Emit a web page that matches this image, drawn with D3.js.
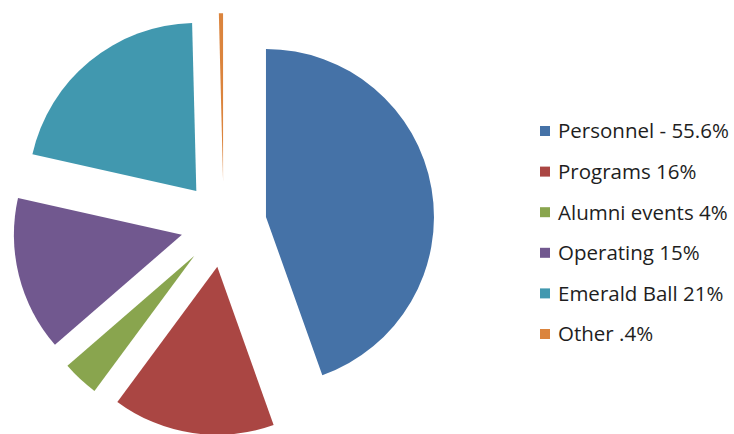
<!DOCTYPE html>
<html>
<head>
<meta charset="utf-8">
<script src="https://cdn.jsdelivr.net/npm/d3@7/dist/d3.min.js"></script>
<style>
  html, body { margin: 0; padding: 0; background: #ffffff; }
  svg { display: block; }
</style>
</head>
<body>
<svg id="chart" width="734" height="434"></svg>
<script>
// Data (slice shares; legend texts as printed)
const categories = ["Personnel", "Programs", "Alumni events", "Operating", "Emerald Ball", "Other"];
const values = [44.6, 15.6, 3.5, 14.9, 21.1, 0.4];
const legendLabels = ["Personnel - 55.6%", "Programs 16%", "Alumni events 4%", "Operating 15%", "Emerald Ball 21%", "Other .4%"];
const colors = ["#4572A7", "#AA4643", "#89A54E", "#71588F", "#4198AF", "#DB843D"];

const svg = d3.select("#chart");
const W = 734, H = 434;
svg.append("rect").attr("width", W).attr("height", H).attr("fill", "#ffffff");

const cx = 223.6, cy = 224.3, R = 168, explode = 43;

const data = categories.map((c, i) => ({ name: c, value: values[i], color: colors[i], label: legendLabels[i] }));

const pie = d3.pie().sort(null).value(d => d.value).startAngle(0).endAngle(2 * Math.PI);
const arc = d3.arc().innerRadius(0).outerRadius(R);

const g = svg.append("g").attr("transform", `translate(${cx},${cy})`);
g.selectAll("path.slice")
  .data(pie(data))
  .join("path")
  .attr("class", "slice")
  .attr("fill", d => d.data.color)
  .attr("d", arc)
  .attr("transform", d => {
    const a = (d.startAngle + d.endAngle) / 2;
    return `translate(${explode * Math.sin(a)},${-explode * Math.cos(a)})`;
  });

// Legend
const legendY = d3.scalePoint().domain(categories).range([131, 334]);
const lg = svg.append("g");
const items = lg.selectAll("g.item").data(data).join("g")
  .attr("class", "item")
  .attr("transform", d => `translate(540,${legendY(d.name)})`);
items.append("rect")
  .attr("x", 0).attr("y", -5).attr("width", 10).attr("height", 10)
  .attr("fill", d => d.color);
items.append("text")
  .attr("x", 18).attr("y", 0)
  .attr("dy", "0.36em")
  .attr("font-family", "'Open Sans', sans-serif")
  .attr("font-size", "20.5px")
  .attr("fill", "#1e1e1e")
  .text(d => d.label);
</script>
</body>
</html>
